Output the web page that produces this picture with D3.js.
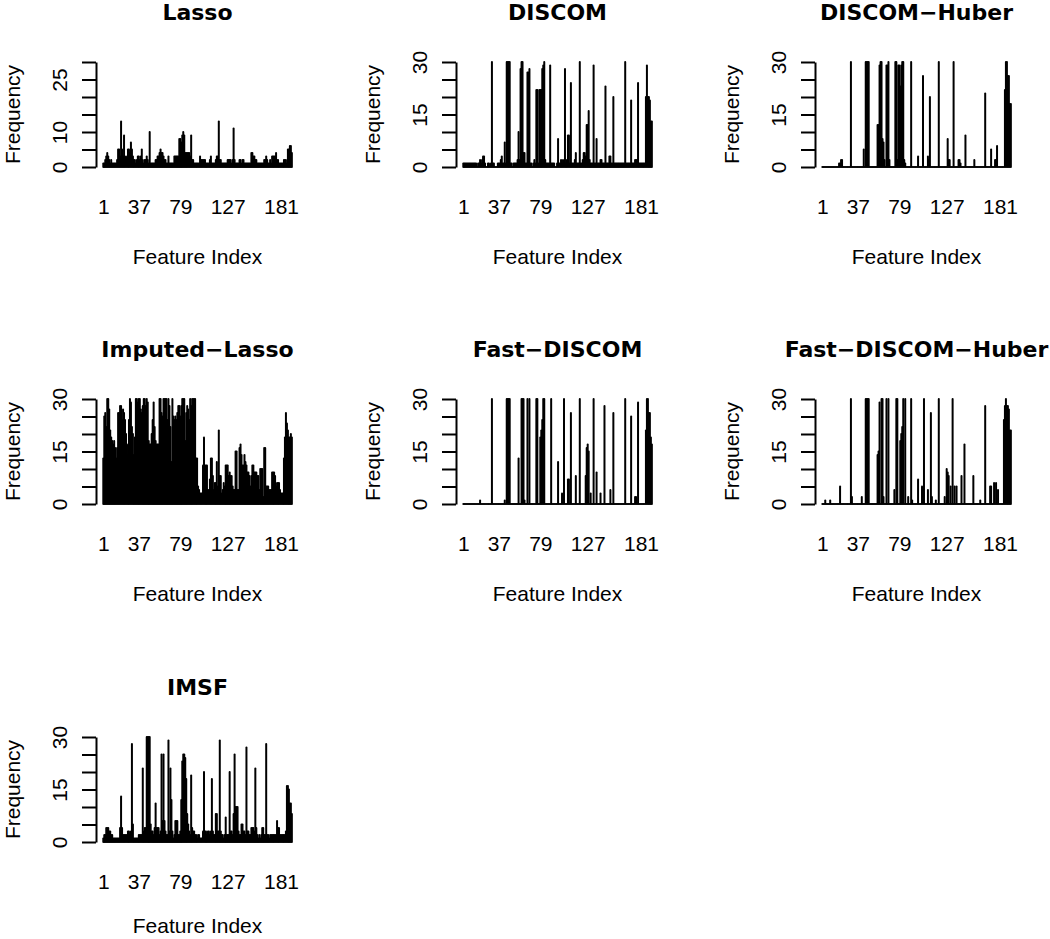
<!DOCTYPE html>
<html><head><meta charset="utf-8">
<script src="https://cdn.jsdelivr.net/npm/d3@7"></script>
<style>body{margin:0;background:#fff}svg{display:block}</style>
</head><body>
<svg id="chart" width="1050" height="939"></svg>
<script>
const titles = ["Lasso","DISCOM","DISCOM\u2212Huber","Imputed\u2212Lasso","Fast\u2212DISCOM","Fast\u2212DISCOM\u2212Huber","IMSF"];
const xTickValues = [1,37,79,127,181];
const yTickValues = [0,5,10,15,20,25,30];
const yLabelsLasso = [0,10,25];
const yLabelsOther = [0,15,30];
const xLabel = "Feature Index";
const yLabel = "Frequency";

const lasso = [
1,1,2,3,4,3,2,1,2,1, 1,1,1,1,2,5,5,3,13,5,
3,9,3,2,3,5,5,4,7,5, 3,2,2,1,2,3,3,2,3,5,
2,1,2,2,3,2,1,10,1,1, 1,1,1,2,2,3,3,4,5,4,
4,3,2,2,1,1,3,1,1,1, 1,1,3,3,3,3,3,8,8,7,
9,10,9,4,4,4,4,4,3,9, 2,2,1,1,1,1,1,1,3,2,
2,2,2,2,1,1,1,1,2,3, 1,1,1,1,2,3,3,13,2,2,
1,1,1,1,1,1,2,2,2,2, 1,2,11,2,1,1,1,1,2,2,
1,2,2,1,1,1,1,1,1,1, 4,4,3,3,2,2,1,1,1,1,
1,1,1,2,2,3,2,1,1,2, 1,3,3,3,3,4,2,2,1,1,
1,1,1,2,2,2,1,5,5,6, 6,4];

const discom = [
1,1,1,1,1,1,1,1,1,1, 1,1,1,1,0,1,1,2,1,2,
3,3,1,0,0,1,1,0,1,30, 1,1,0,0,0,1,1,1,2,3,
1,1,7,1,30,30,30,30,1,1, 0,1,1,1,1,2,10,2,28,30,
30,4,4,1,1,27,27,28,1,1, 0,1,2,1,22,22,1,22,22,22,
28,29,30,2,1,1,1,1,29,1, 1,1,1,0,0,1,8,1,1,2,
1,2,1,28,1,2,9,9,1,24, 1,1,1,2,4,1,1,1,30,1,
1,2,4,4,3,12,12,16,2,1, 1,1,29,1,1,8,1,1,1,2,
2,1,1,1,23,1,1,1,3,3, 1,1,20,1,1,1,1,1,1,1,
1,1,1,1,30,1,1,1,1,1, 19,1,1,1,2,2,2,24,1,1,
1,1,1,1,1,20,29,20,20,19, 13,13];

const discomHuber = [
0,0,0,0,0,0,0,0,0,0, 0,0,0,0,0,0,0,1,1,2,
2,0,0,0,0,0,0,0,0,30, 0,0,0,0,0,0,0,0,0,0,
0,0,5,0,30,30,30,30,0,0, 0,0,0,0,0,0,12,12,29,30,
30,8,7,2,0,29,29,30,2,0, 0,0,0,0,30,30,2,29,29,23,
29,30,30,2,1,0,0,0,0,0, 30,0,0,0,0,0,0,3,0,0,
0,0,26,0,0,0,0,3,2,20, 0,0,0,0,0,0,0,0,30,0,
0,0,0,0,0,0,0,8,2,2, 0,0,0,30,0,0,0,0,2,2,
1,0,0,0,0,9,0,0,0,0, 0,0,0,0,2,0,0,0,0,0,
0,0,0,0,0,21,0,0,0,0, 0,5,0,0,0,2,2,6,0,0,
0,0,0,0,0,22,30,30,26,26, 18,18];

const imputedLasso = [
13,25,26,22,30,30,27,21,19,18,
17,18,16,13,16,26,26,28,28,24,27,
26,24,20,17,14,24,30,29,22,20,14,
19,30,30,29,30,30,27,26,28,30,30,
28,30,29,18,17,17,20,24,29,22,18,
17,17,17,30,30,26,25,30,30,30,30,
24,30,28,22,12,30,25,24,25,24,26,
28,28,25,28,30,30,30,18,26,28,27,
24,30,28,30,30,30,30,
13,13,5,4,3,3,3,11,19,11,
11,11,4,4,7,13,13,8,4,6,
6,12,5,21,8,8,3,4,6,5,
11,11,11,8,9,8,8,5,4,4,
15,15,4,4,16,17,14,11,11,14,
12,11,9,9,8,5,8,11,11,9,
9,9,8,8,4,10,10,10,2,16,
16,5,5,5,4,4,4,9,9,9,
8,5,6,6,6,4,3,3,3,13,
19,26,23,21,19,19,20,19];

const fastDiscom = [
0,0,0,0,0,0,0,0,0,0, 0,0,0,0,0,0,0,1,0,0,
0,0,0,0,0,0,0,0,0,30, 0,0,0,0,0,0,0,0,0,0,
0,0,1,0,30,30,30,30,0,0, 0,0,0,0,0,0,13,0,0,30,
30,30,1,0,0,30,0,30,0,0, 0,0,0,0,30,30,0,0,19,21,
24,30,30,0,0,0,0,0,0,30, 0,0,0,0,0,0,12,0,0,0,
3,0,30,0,0,0,7,7,0,26, 0,0,0,0,8,0,0,0,30,0,
0,0,0,0,8,16,17,15,0,3, 0,0,30,0,0,9,0,0,0,3,
0,0,0,28,0,0,0,0,0,4, 0,0,26,0,0,0,0,0,0,0,
0,0,0,0,30,0,0,0,0,0, 25,0,0,0,2,2,0,29,0,0,
0,0,0,0,0,21,30,30,26,26, 19,17];

const fastDiscomHuber = [
0,0,0,1,0,0,0,0,1,0, 0,0,0,0,0,0,0,0,5,0,
0,0,0,0,0,0,0,0,0,30, 2,0,0,0,0,0,0,0,0,0,
2,0,0,0,30,30,30,30,0,0, 0,0,0,0,0,0,14,15,29,0,
30,30,2,0,0,30,0,30,0,0, 0,0,0,4,0,30,30,0,0,18,
20,22,30,0,30,0,0,2,0,0, 30,1,0,0,0,0,0,7,0,0,
0,5,0,30,0,0,0,4,0,0, 26,2,0,0,0,1,0,0,30,0,
0,0,0,0,2,0,10,9,8,0, 5,0,30,0,5,0,5,0,0,0,
0,8,0,0,17,0,0,0,0,0, 0,0,0,8,0,0,0,0,0,0,
1,0,0,0,0,28,0,0,0,0, 5,5,0,0,6,0,6,0,4,0,
0,0,0,0,24,28,30,28,28,27, 21,21];

const imsf = [
1,2,2,4,4,4,3,3,2,2, 1,1,1,1,1,1,1,4,13,4,
2,2,2,2,2,3,3,2,3,28, 5,1,1,1,1,1,2,2,2,2,
21,3,4,4,30,30,30,30,5,3, 3,2,4,11,4,4,4,2,3,25,
6,25,6,3,2,2,29,3,21,12, 3,1,2,6,6,6,2,2,3,12,
23,25,25,24,18,8,5,3,2,19, 4,3,3,2,2,1,2,2,1,1,
1,3,20,3,3,2,3,3,2,3, 18,3,2,2,8,8,3,3,29,3,
2,2,1,2,7,2,2,2,20,3, 3,2,8,25,10,10,10,3,2,2,
5,5,3,3,2,27,3,3,2,2, 4,4,4,3,21,4,2,1,2,1,
2,4,4,2,2,28,2,2,1,2, 2,2,2,2,2,2,6,4,4,2,
2,2,2,2,2,3,16,16,15,11, 11,8];

const seriesList = [lasso, discom, discomHuber, imputedLasso, fastDiscom, fastDiscomHuber, imsf];

const svg = d3.select("#chart");
const colX = [0, 360, 719];
const rowY = [0, 337, 675];
const FONT = "'Liberation Sans', Arial, Helvetica, sans-serif";
const TFONT = "'DejaVu Sans', Verdana, sans-serif";

const x = d3.scaleLinear().domain([1, 181]).range([103.3, 281]);
const y = d3.scaleLinear().domain([0, 30]).range([167, 62]);

seriesList.forEach((vals, k) => {
  const col = k % 3, row = Math.floor(k / 3);
  const g = svg.append("g").attr("transform", `translate(${colX[col]},${rowY[row]})`);
  const labels = k === 0 ? yLabelsLasso : yLabelsOther;

  // title
  g.append("text").attr("x", 197.5).attr("y", 19.5)
    .attr("text-anchor", "middle")
    .style("font-family", TFONT).style("font-weight", "bold").style("font-size", "22px")
    .text(titles[k]);

  // bars (type = "h")
  g.append("g").selectAll("line").data(vals).join("line")
    .attr("x1", (d, i) => x(i + 1)).attr("x2", (d, i) => x(i + 1))
    .attr("y1", y(0)).attr("y2", d => y(d))
    .attr("stroke", "#000").attr("stroke-width", 2).attr("stroke-linecap", "round");

  // y axis
  const ya = g.append("g").attr("transform", "translate(96,0)")
    .call(d3.axisLeft(y).tickValues(yTickValues).tickSize(14).tickSizeOuter(0)
      .tickFormat(d => labels.includes(d) ? String(d) : ""));
  ya.select(".domain").attr("stroke", "#000").attr("stroke-width", 2);
  ya.selectAll(".tick line").attr("stroke", "#000").attr("stroke-width", 2);
  ya.selectAll(".tick text")
    .attr("x", null).attr("dy", null)
    .attr("text-anchor", "middle")
    .attr("transform", "translate(-29,0) rotate(-90)")
    .attr("fill", "#000")
    .style("font-family", FONT).style("font-size", "21px");

  // x axis (labels only)
  const xa = g.append("g").attr("transform", "translate(0,214)")
    .call(d3.axisBottom(x).tickValues(xTickValues).tickSize(0).tickFormat(d3.format("d")));
  xa.select(".domain").remove();
  xa.selectAll(".tick text").attr("y", 0).attr("dy", null).attr("fill", "#000")
    .style("font-family", FONT).style("font-size", "21px");

  // axis titles
  g.append("text").attr("x", 197.5).attr("y", row === 2 ? 258 : 264).attr("text-anchor", "middle")
    .style("font-family", FONT).style("font-size", "21px").text(xLabel);
  g.append("text").attr("transform", "translate(19.5,114.5) rotate(-90)").attr("text-anchor", "middle")
    .style("font-family", FONT).style("font-size", "21px").text(yLabel);
});
</script>
</body></html>
